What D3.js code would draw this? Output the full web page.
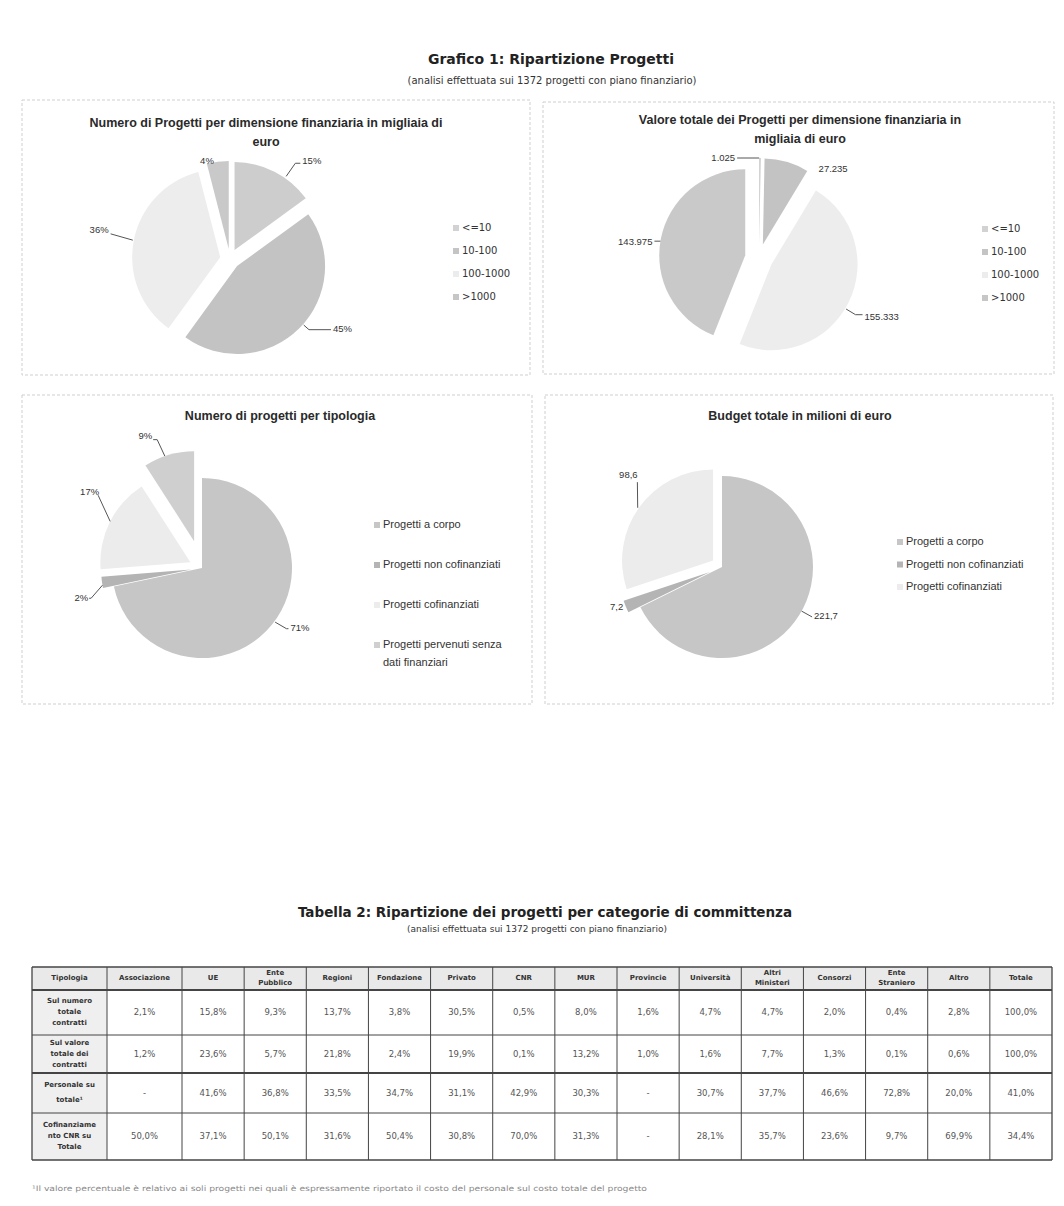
<!DOCTYPE html>
<html><head><meta charset="utf-8">
<script src="https://cdn.jsdelivr.net/npm/d3@7"></script>
<style>body{margin:0;background:#fff;} svg{display:block;}</style>
</head><body>
<svg id="c" width="1064" height="1206"></svg>
<script>
// ---------------- DATA ----------------
const sizeCategories = ["<=10", "10-100", "100-1000", ">1000"];
const projectCountPct = [15, 45, 36, 4];
const projectValueK = [1.025, 27.235, 155.333, 143.975];
const projectValueLabels = ["1.025", "27.235", "155.333", "143.975"];

const typeCategories = ["Progetti a corpo", "Progetti non cofinanziati", "Progetti cofinanziati", "Progetti pervenuti senza dati finanziari"];
const typeCountPct = [71, 2, 17, 9];
const budgetCategories = ["Progetti a corpo", "Progetti non cofinanziati", "Progetti cofinanziati"];
const budgetMillions = [221.7, 7.2, 98.6];
const budgetLabels = ["221,7", "7,2", "98,6"];

const tableHeader = [["Tipologia"], ["Associazione"], ["UE"], ["Ente", "Pubblico"], ["Regioni"], ["Fondazione"], ["Privato"], ["CNR"], ["MUR"], ["Provincie"], ["Università"], ["Altri", "Ministeri"], ["Consorzi"], ["Ente", "Straniero"], ["Altro"], ["Totale"]];
const tableRowLabels = [["Sul numero", "totale", "contratti"], ["Sul valore", "totale dei", "contratti"], ["Personale su", "totale¹"], ["Cofinanziame", "nto CNR su", "Totale"]];
const shareOfCount = [2.1, 15.8, 9.3, 13.7, 3.8, 30.5, 0.5, 8.0, 1.6, 4.7, 4.7, 2.0, 0.4, 2.8, 100.0];
const shareOfValue = [1.2, 23.6, 5.7, 21.8, 2.4, 19.9, 0.1, 13.2, 1.0, 1.6, 7.7, 1.3, 0.1, 0.6, 100.0];
const staffShare = [null, 41.6, 36.8, 33.5, 34.7, 31.1, 42.9, 30.3, null, 30.7, 37.7, 46.6, 72.8, 20.0, 41.0];
const cnrCofunding = [50.0, 37.1, 50.1, 31.6, 50.4, 30.8, 70.0, 31.3, null, 28.1, 35.7, 23.6, 9.7, 69.9, 34.4];

const mainTitle = "Grafico 1: Ripartizione Progetti";
const subTitle = "(analisi effettuata sui 1372 progetti con piano finanziario)";
const tableTitle = "Tabella 2: Ripartizione dei progetti per categorie di committenza";
const footnote = "¹Il valore percentuale è relativo ai soli progetti nei quali è espressamente riportato il costo del personale sul costo totale del progetto";

// ---------------- DRAW ----------------
const svg = d3.select("#c");
const FT = "'Liberation Sans', Arial, sans-serif";
const FV = "'DejaVu Sans', Verdana, sans-serif";
const rad = d => d * Math.PI / 180;
const polar = (aDeg, r) => [r * Math.sin(rad(aDeg)), -r * Math.cos(rad(aDeg))];

svg.append("text").attr("x", 551).attr("y", 64).attr("text-anchor", "middle")
  .attr("font-family", FV).attr("font-weight", "bold").attr("font-size", 14).attr("fill", "#222").text(mainTitle);
svg.append("text").attr("x", 552).attr("y", 84).attr("text-anchor", "middle")
  .attr("font-family", FV).attr("font-size", 10).attr("fill", "#333").text(subTitle);

// panels
const panels = [[22, 100, 508, 275], [543, 102, 511, 272], [22, 395, 510, 309], [545, 395, 508, 309]];
svg.selectAll("rect.panel").data(panels).join("rect").attr("class", "panel")
  .attr("x", d => d[0]).attr("y", d => d[1]).attr("width", d => d[2]).attr("height", d => d[3])
  .attr("fill", "#fff").attr("stroke", "#cfcfcf").attr("stroke-width", 1).attr("stroke-dasharray", "3,2");

function drawPie(cfg) {
  const g = svg.append("g");
  const pie = d3.pie().sort(null).value(d => d.v);
  const arcs = pie(cfg.values.map((v, i) => ({ v, i })));
  const arc = d3.arc().innerRadius(0).outerRadius(cfg.r);
  arcs.forEach(a => {
    const mid = (a.startAngle + a.endAngle) / 2;
    const e = cfg.explode[a.index];
    a.ox = cfg.cx + e * Math.sin(mid);
    a.oy = cfg.cy - e * Math.cos(mid);
  });
  g.selectAll("path").data(arcs).join("path")
    .attr("transform", d => `translate(${d.ox},${d.oy})`)
    .attr("d", arc).attr("fill", d => cfg.colors[d.index]);

  // labels
  arcs.forEach((a, i) => {
    const L = cfg.labelLayout[i];
    const p2 = polar(L.a2, L.r2);
    const x2 = a.ox + p2[0], y2 = a.oy + p2[1];
    if (L.r1 != null) {
      const p1 = polar(L.a1, L.r1);
      g.append("polyline")
        .attr("points", [[a.ox + p1[0], a.oy + p1[1]], [x2, y2], [x2 + L.h, y2]].map(p => p.join(",")).join(" "))
        .attr("fill", "none").attr("stroke", "#555").attr("stroke-width", 1);
    }
    g.append("text").attr("x", x2 + L.h + L.dx).attr("y", y2 + L.dy)
      .attr("text-anchor", L.anchor).attr("dominant-baseline", "middle")
      .attr("font-family", FT).attr("font-size", cfg.labelSize).attr("fill", "#333")
      .text(cfg.labels[i]);
  });

  // title
  cfg.title.forEach((t, i) => {
    g.append("text").attr("x", cfg.titleX).attr("y", cfg.titleY + i * 19).attr("text-anchor", "middle")
      .attr("font-family", FT).attr("font-weight", "bold").attr("font-size", 12.5).attr("fill", "#2a2a2a").text(t);
  });

  // legend
  const lg = g.append("g");
  cfg.legendNames.forEach((name, i) => {
    const y = cfg.legend.y + i * cfg.legend.dy;
    lg.append("rect").attr("x", cfg.legend.x).attr("y", y - 3).attr("width", 6).attr("height", 6).attr("fill", cfg.legendColors[i]);
    const t = lg.append("text").attr("x", cfg.legend.x + 9).attr("y", y).attr("dominant-baseline", "middle")
      .attr("font-family", cfg.legend.font).attr("font-size", cfg.legend.size).attr("fill", "#333");
    const words = name.split(" ");
    let line = [], ts = t.append("tspan").attr("x", cfg.legend.x + 9);
    words.forEach(w => {
      line.push(w); ts.text(line.join(" "));
      if (ts.node().getComputedTextLength() > cfg.legend.maxW && line.length > 1) {
        line.pop(); ts.text(line.join(" ")); line = [w];
        ts = t.append("tspan").attr("x", cfg.legend.x + 9).attr("dy", 18).text(w);
      }
    });
  });
}

const sizeColors = ["#cdcdcd", "#c3c3c3", "#ededed", "#c9c9c9"];
const sizeLegendColors = ["#d2d2d2", "#c4c4c4", "#ececec", "#c6c6c6"];
const typeColors = ["#c6c6c6", "#b4b4b4", "#ececec", "#cfcfcf"];

drawPie({
  values: projectCountPct, labels: projectCountPct.map(v => v + "%"),
  cx: 230, cy: 259, r: 88, explode: [10, 10, 10, 10], colors: sizeColors, labelSize: 9.5,
  labelLayout: [
    { a1: 35, r1: 90, a2: 35, r2: 106, h: 5, anchor: "start", dx: 2, dy: -2 },
    { a1: 131.5, r1: 89, a2: 131.5, r2: 96, h: 22, anchor: "start", dx: 2, dy: 0 },
    { a1: 281, r1: 89, a2: 282, r2: 112, h: 0, anchor: "end", dx: -2, dy: -3 },
    { r1: null, a2: -14, r2: 90, h: 0, anchor: "middle", dx: 0, dy: 0 }
  ],
  title: ["Numero di Progetti per dimensione finanziaria in migliaia di", "euro"], titleX: 266, titleY: 127,
  legendNames: sizeCategories, legendColors: sizeLegendColors,
  legend: { x: 453, y: 228, dy: 23, font: FV, size: 10, maxW: 200 }
});

drawPie({
  values: projectValueK, labels: projectValueLabels,
  cx: 759, cy: 258, r: 86, explode: [14, 14, 14, 14], colors: sizeColors, labelSize: 9.5,
  labelLayout: [
    { a1: 0, r1: 86, a2: 0, r2: 86, h: -22, anchor: "end", dx: -2, dy: 0 },
    { r1: null, a2: 43, r2: 103, h: 0, anchor: "middle", dx: 0, dy: 0 },
    { a1: 121, r1: 87, a2: 121, r2: 98, h: 7, anchor: "start", dx: 2, dy: 3 },
    { a1: 279.5, r1: 86, a2: 279.5, r2: 86, h: -6, anchor: "end", dx: -2, dy: 1 }
  ],
  title: ["Valore totale dei Progetti per dimensione finanziaria in", "migliaia di euro"], titleX: 800, titleY: 124,
  legendNames: sizeCategories, legendColors: sizeLegendColors,
  legend: { x: 982, y: 229, dy: 23, font: FV, size: 10, maxW: 200 }
});

drawPie({
  values: typeCountPct, labels: typeCountPct.map(v => v + "%"),
  cx: 202, cy: 568, r: 90, explode: [0, 11, 13, 28], colors: typeColors, labelSize: 9.5,
  labelLayout: [
    { a1: 126.5, r1: 91, a2: 125.7, r2: 104, h: 2, anchor: "start", dx: 2, dy: 0 },
    { a1: 260, r1: 90, a2: 254, r2: 104, h: -2, anchor: "end", dx: -1, dy: 0 },
    { a1: 297, r1: 90, a2: 306, r2: 114, h: 0, anchor: "end", dx: 1, dy: -3 },
    { a1: 341, r1: 90, a2: 340, r2: 108, h: -4, anchor: "end", dx: -1, dy: -3 }
  ],
  title: ["Numero di progetti per tipologia"], titleX: 280, titleY: 420,
  legendNames: typeCategories, legendColors: typeColors,
  legend: { x: 374, y: 525, dy: 40, font: FT, size: 11, maxW: 135 }
});

drawPie({
  values: budgetMillions, labels: budgetLabels,
  cx: 722, cy: 567, r: 91, explode: [0, 13, 11], colors: typeColors, labelSize: 9.5,
  labelLayout: [
    { a1: 119, r1: 91, a2: 119, r2: 103, h: 0, anchor: "start", dx: 2, dy: 0 },
    { r1: null, a2: 249, r2: 100, h: 0, anchor: "middle", dx: 0, dy: 0 },
    { a1: 305, r1: 92, a2: 316, r2: 109, h: 0, anchor: "middle", dx: -9, dy: -7 }
  ],
  title: ["Budget totale in milioni di euro"], titleX: 800, titleY: 420,
  legendNames: budgetCategories, legendColors: typeColors,
  legend: { x: 897, y: 542, dy: 22.5, font: FT, size: 11, maxW: 200 }
});

// ---------------- TABLE ----------------
svg.append("text").attr("x", 545).attr("y", 917).attr("text-anchor", "middle")
  .attr("font-family", FV).attr("font-weight", "bold").attr("font-size", 13.5).attr("fill", "#222").text(tableTitle);
svg.append("text").attr("x", 537).attr("y", 932).attr("text-anchor", "middle")
  .attr("font-family", FV).attr("font-size", 9).attr("fill", "#333").text(subTitle);

const tableRows = [shareOfCount, shareOfValue, staffShare, cnrCofunding];
const colW = tableHeader.map((_, i) => i < 2 ? 75 : (1020 - 150) / 14);
const colX = [32]; colW.forEach(w => colX.push(colX[colX.length - 1] + w));
const rowH = [23, 45, 38, 40, 47];
const rowY = [967]; rowH.forEach(h => rowY.push(rowY[rowY.length - 1] + h));
const fmt = v => v == null ? "-" : d3.format(".1f")(v).replace(".", ",") + "%";
const tg = svg.append("g");

tg.append("rect").attr("x", colX[0]).attr("y", rowY[0]).attr("width", colX[16] - colX[0]).attr("height", rowH[0]).attr("fill", "#e9e9e9");
tg.append("rect").attr("x", colX[0]).attr("y", rowY[1]).attr("width", colW[0]).attr("height", rowY[5] - rowY[1]).attr("fill", "#efefef");

tableHeader.forEach((lines, i) => {
  const cx = (colX[i] + colX[i + 1]) / 2, cy = (rowY[0] + rowY[1]) / 2;
  lines.forEach((l, k) => {
    tg.append("text").attr("x", cx).attr("y", cy + (k - (lines.length - 1) / 2) * 10).attr("text-anchor", "middle")
      .attr("dominant-baseline", "middle").attr("font-family", FV).attr("font-weight", "bold").attr("font-size", 7)
      .attr("fill", "#333").text(l);
  });
});
const labelGap = [11, 11, 15, 11];
tableRowLabels.forEach((lines, r) => {
  const cy = (rowY[r + 1] + rowY[r + 2]) / 2;
  lines.forEach((l, k) => {
    tg.append("text").attr("x", (colX[0] + colX[1]) / 2).attr("y", cy + (k - (lines.length - 1) / 2) * labelGap[r])
      .attr("text-anchor", "middle").attr("dominant-baseline", "middle").attr("font-family", FV).attr("font-weight", "bold")
      .attr("font-size", 7).attr("fill", "#333").text(l);
  });
});
tableRows.forEach((vals, r) => {
  const cy = (rowY[r + 1] + rowY[r + 2]) / 2;
  vals.forEach((v, c) => {
    tg.append("text").attr("x", (colX[c + 1] + colX[c + 2]) / 2).attr("y", cy).attr("text-anchor", "middle")
      .attr("dominant-baseline", "middle").attr("font-family", FV).attr("font-size", 8.5).attr("fill", "#555").text(fmt(v));
  });
});
colX.forEach((x, i) => tg.append("line").attr("x1", x).attr("x2", x).attr("y1", rowY[0]).attr("y2", rowY[5])
  .attr("stroke", "#444").attr("stroke-width", (i === 0 || i === 16) ? 1.3 : 1));
rowY.forEach((y, i) => tg.append("line").attr("x1", colX[0]).attr("x2", colX[16]).attr("y1", y).attr("y2", y)
  .attr("stroke", "#444").attr("stroke-width", (i === 1 || i === 3) ? 2 : (i === 0 || i === 5 ? 1.3 : 1)));

svg.append("text").attr("x", 32).attr("y", 1191).attr("font-family", FV).attr("font-size", 7.5)
  .attr("textLength", 615).attr("lengthAdjust", "spacingAndGlyphs").attr("fill", "#888").text(footnote);
</script>
</body></html>
